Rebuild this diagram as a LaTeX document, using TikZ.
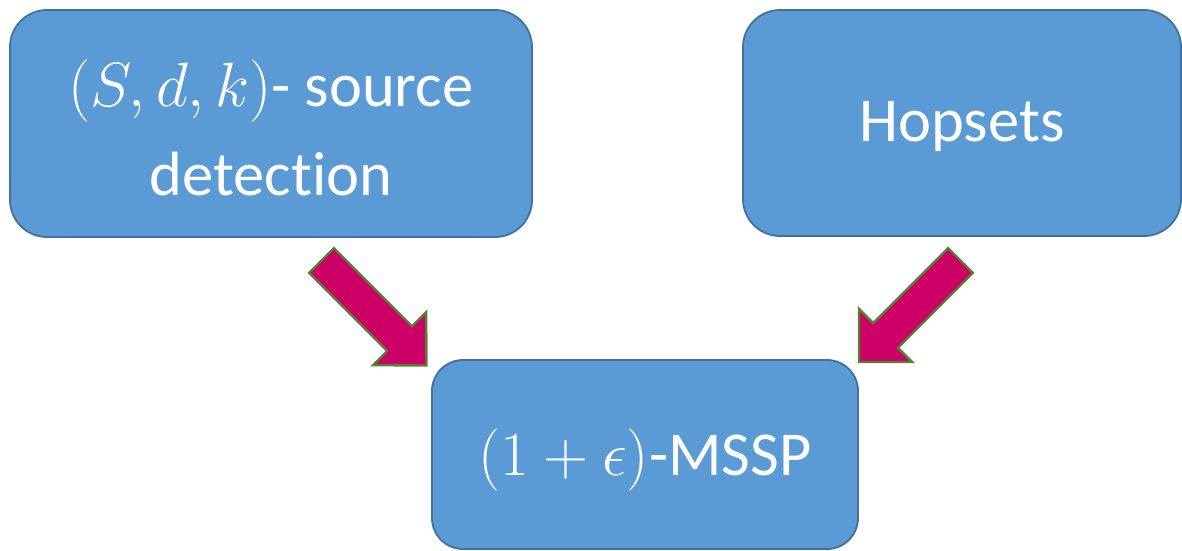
\RequirePackage{fix-cm}
\documentclass[tikz,border=0pt]{standalone}
\usepackage{fontspec}
\setmainfont{Carlito}[Ligatures=CommonOff]
\definecolor{boxfill}{RGB}{91,155,213}
\definecolor{boxline}{RGB}{65,113,156}
\definecolor{arrowfill}{RGB}{204,0,102}
\definecolor{arrowline}{RGB}{84,130,53}
\tikzset{
  stagebox/.style={draw=boxline, fill=boxfill, line width=1.8pt, inner sep=0pt},
  stagetext/.style={text=white, align=center, inner sep=0pt,
    font=\fontsize{62.5}{89}\selectfont},
  blockarrow/.style={draw=arrowline, fill=arrowfill, line width=2.4pt,
    line join=miter},
}
\begin{document}
\begin{tikzpicture}[x=1pt,y=1pt]
\useasboundingbox (0,0) rectangle (1182,-550);

% stage boxes
\node[stagebox, rounded corners=37pt, minimum width=522pt, minimum height=227pt]
  (sdk) at (271,-123.5) {};
\node[stagebox, rounded corners=37pt, minimum width=438pt, minimum height=226pt]
  (hop) at (962,-123) {};
\node[stagebox, rounded corners=31pt, minimum width=426pt, minimum height=189pt]
  (mssp) at (645,-454.5) {};

% their labels, set a little below the box centres
\node[stagetext] (sdkt) at ([yshift=-4pt]sdk.center) {$(S,d,k)$- source\\detection};
\node[stagetext] (hopt) at ([yshift=-3pt]hop.center) {Hopsets};
\node[stagetext] (msspt) at ([yshift=-5pt]mssp.center) {$(1+\epsilon)$-MSSP};

% block arrows feeding the lower box
\coordinate (a1) at (321.5,-260.5);
\coordinate (a2) at (960.5,-260.5);
\begin{scope}[shift={(a1)}, rotate=-45]
  \draw[blockarrow] (0,17.5) -- (110.5,17.5) -- (110.5,37.5) -- (148.5,0)
    -- (110.5,-37.5) -- (110.5,-17.5) -- (0,-17.5) -- cycle;
\end{scope}
\begin{scope}[shift={(a2)}, rotate=-135]
  \draw[blockarrow] (0,17.5) -- (106,17.5) -- (106,37.5) -- (143.5,0)
    -- (106,-37.5) -- (106,-17.5) -- (0,-17.5) -- cycle;
\end{scope}
\end{tikzpicture}
\end{document}
